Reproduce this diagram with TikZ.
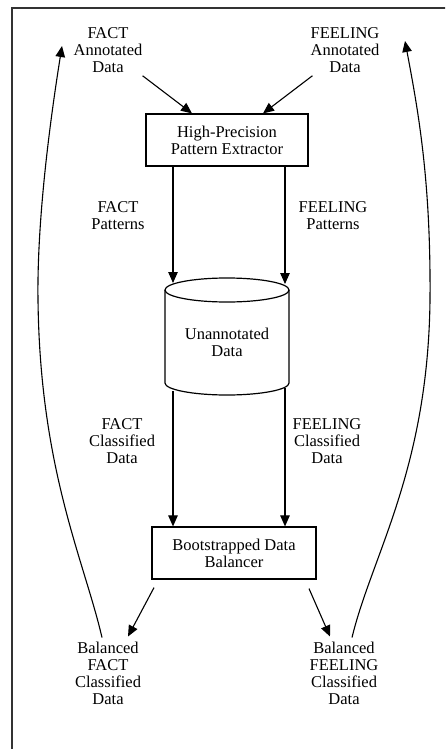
\documentclass[tikz,border=0pt]{standalone}
\usepackage{fontspec}
\setmainfont{Liberation Serif}
\usetikzlibrary{arrows.meta}
\begin{document}
\begin{tikzpicture}[x=1pt,y=-1pt,
  font=\fontsize{16.5}{17}\selectfont,
  lbl/.style={align=center, inner sep=0pt},
  box/.style={draw, line width=1.2pt, align=center, inner sep=0pt},
  arr/.style={line width=1.1pt, -{Triangle[length=11pt,width=9.5pt]}},
  frame/.style={line width=1.6pt, draw=black!80}]
\useasboundingbox (0,0) rectangle (445,749);
\clip (0,0) rectangle (445,749);
\draw[frame] (12,800) -- (12,8) -- (470,8);

% top labels
\node[lbl] (fa) at (108,50) {FACT\\Annotated\\Data};
\node[lbl] (fe) at (345,50) {FEELING\\Annotated\\Data};

% pattern extractor
\node[box, minimum width=162pt, minimum height=52pt] (hpe) at (227,140) {High-Precision\\Pattern Extractor};

\draw[arr] ([yshift=-3pt]fa.south east) -- ([xshift=-35pt]hpe.north);
\draw[arr] ([shift={(2,3)}]fe.south west) -- ([xshift=36pt]hpe.north);

\node[lbl] (fp) at (118,216) {FACT\\Patterns};
\node[lbl] (flp) at (333,216) {FEELING\\Patterns};

% cylinder
\draw[line width=1.2pt] (227,290) ellipse [x radius=62pt, y radius=12pt];
\draw[line width=1.2pt] (165,290) -- (165,383)
   .. controls (165,389.6) and (192.8,395) .. (227,395)
   .. controls (261.2,395) and (289,389.6) .. (289,383) -- (289,290);
\node[lbl] (cyl) at (227,342) {Unannotated\\Data};
\coordinate (cylTL) at (173,283);
\coordinate (cylTR) at (285,284);
\coordinate (cylBL) at (173,391);
\coordinate (cylBR) at (285,388);

\draw[arr] ([xshift=-54pt]hpe.south) -- (cylTL);
\draw[arr] ([xshift=58pt]hpe.south) -- (cylTR);

\node[lbl] (fcd) at (122,441) {FACT\\Classified\\Data};
\node[lbl] (flcd) at (327,441) {FEELING\\Classified\\Data};

% balancer
\node[box, minimum width=164pt, minimum height=52pt] (bdb) at (234,553) {Bootstrapped Data\\Balancer};

\draw[arr] (cylBL) -- ([xshift=-61pt]bdb.north);
\draw[arr] (cylBR) -- ([xshift=51pt]bdb.north);

\node[lbl] (bfc) at (108,673) {Balanced\\FACT\\Classified\\Data};
\node[lbl] (bflc) at (344,673) {Balanced\\FEELING\\Classified\\Data};

\draw[arr] ([shift={(-80,8)}]bdb.south) -- ([shift={(20,-5)}]bfc.north);
\draw[arr] ([shift={(75,9)}]bdb.south) -- ([shift={(-14,-5)}]bflc.north);

% feedback curves
\coordinate (topL) at (62,46);
\coordinate (topR) at (405,41);
\draw[arr] ([shift={(-6,-4)}]bfc.north) .. controls (84,560) and (40,470) .. (38,300)
   .. controls (37,230) and (47,140) .. (topL);
\draw[arr] ([shift={(8,-4)}]bflc.north) .. controls (372,555) and (428,470) .. (430,300)
   .. controls (431,180) and (418,110) .. (topR);
\end{tikzpicture}
\end{document}
